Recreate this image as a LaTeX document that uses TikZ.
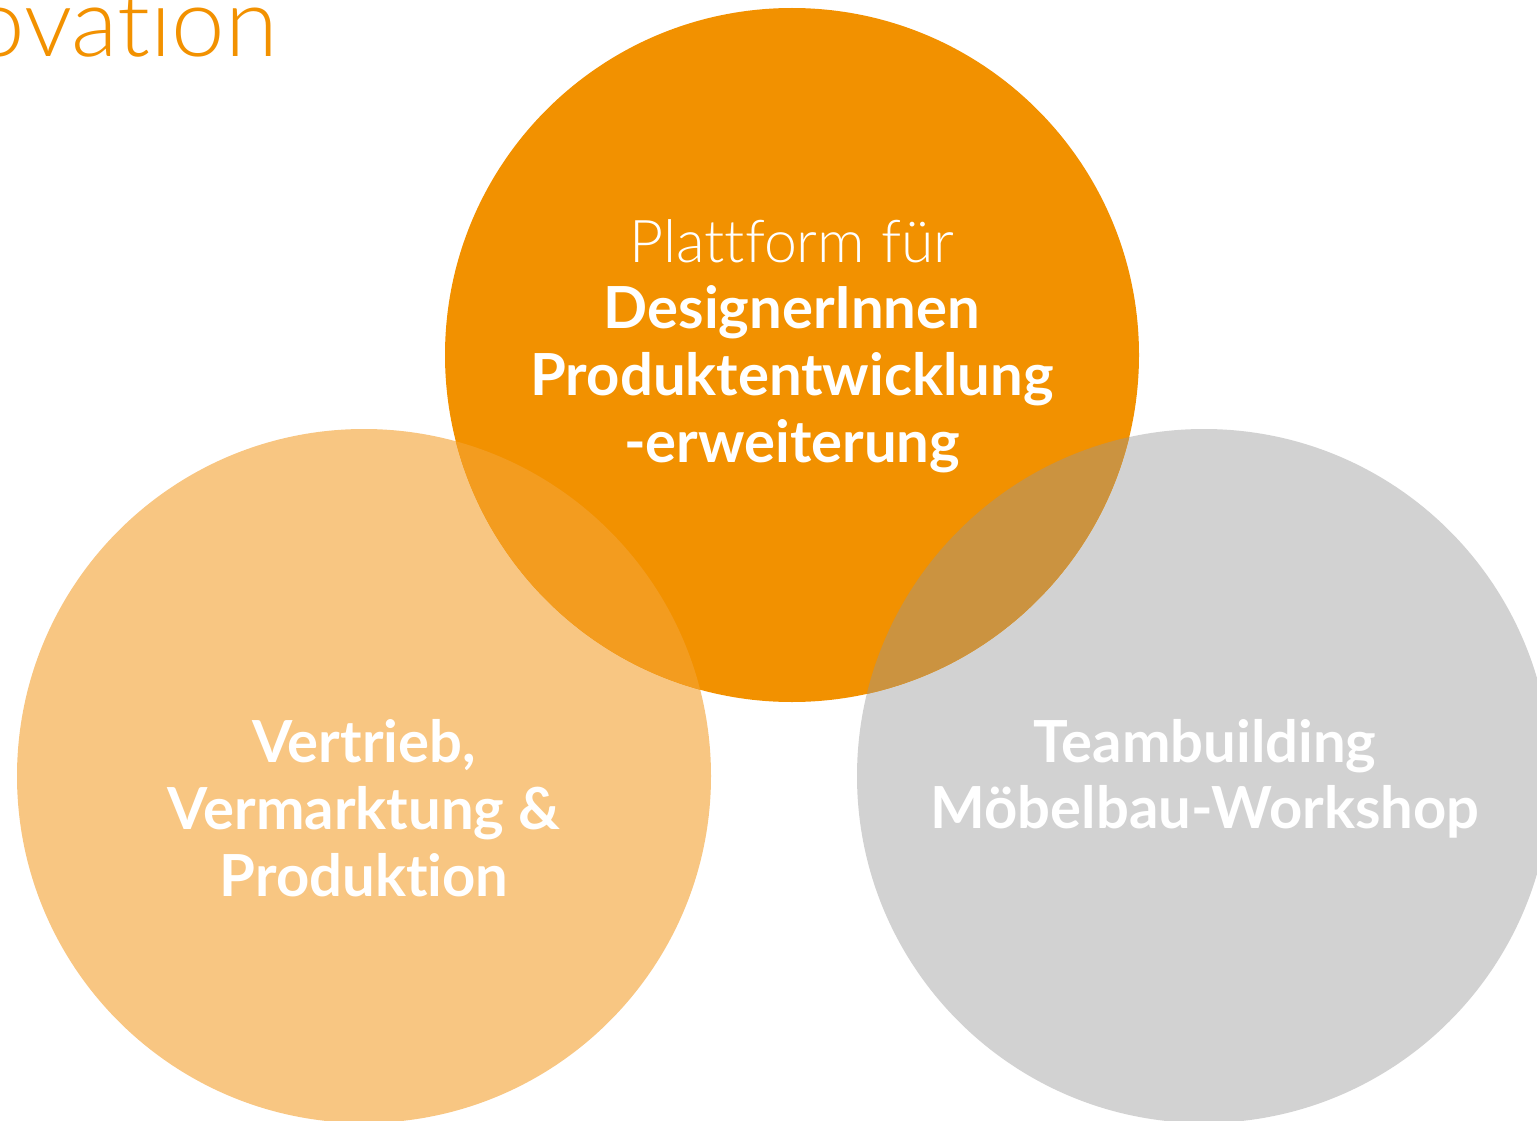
\documentclass[tikz,border=0pt]{standalone}
\usepackage{fontspec}
\setmainfont{Lato}[Ligatures=NoCommon]
\newfontfamily\lightfont{Lato Light}[Ligatures=NoCommon]
\definecolor{orangeA}{HTML}{F29100}
\definecolor{orangeL}{HTML}{F8C682}
\definecolor{greyC}{HTML}{D2D2D2}
\definecolor{ovlL}{HTML}{F39C1F}
\definecolor{ovlR}{HTML}{CB9340}
\tikzset{
  boldtxt/.style={anchor=base, inner sep=0pt, text=white, font=\bfseries\fontsize{58}{67}\selectfont},
  lighttxt/.style={anchor=base, inner sep=0pt, text=white, font=\lightfont\fontsize{59}{67}\selectfont},
  circ/.style={circle, minimum size=694pt, inner sep=0pt, draw=none}
}
\begin{document}
\begin{tikzpicture}[x=1pt,y=-1pt]
\useasboundingbox (0,0) rectangle (1537,1121);
\begin{scope}
\clip (0,0) rectangle (1537,1121);
\node[circ, fill=orangeL] (left) at (364,776) {};
\node[circ, fill=greyC] (right) at (1204,776) {};
\node[circ, fill=orangeA] (top) at (792,355) {};
\begin{scope}
  \clip (364,776) circle[radius=347];
  \fill[ovlL] (792,355) circle[radius=347];
\end{scope}
\begin{scope}
  \clip (1204,776) circle[radius=347];
  \fill[ovlR] (792,355) circle[radius=347];
\end{scope}
\node[anchor=base east, inner sep=0pt, text=orangeA, font=\lightfont\fontsize{96}{100}\selectfont] (title) at (278,57) {Innovation};
\node[lighttxt] (t1) at (792,262) {Plattform für};
\node[boldtxt] (t2) at (792,328) {DesignerInnen};
\node[boldtxt] (t3) at (792,395) {Produktentwicklung};
\node[boldtxt] (t4) at (792,462) {-erweiterung};
\node[boldtxt] (l1) at (364,762) {Vertrieb,};
\node[boldtxt] (l2) at (364,829) {Vermarktung \&};
\node[boldtxt] (l3) at (364,896) {Produktion};
\node[boldtxt] (r1) at (1205,762) {Teambuilding};
\node[boldtxt] (r2) at (1205,828) {Möbelbau-Workshop};
\end{scope}
\end{tikzpicture}
\end{document}
